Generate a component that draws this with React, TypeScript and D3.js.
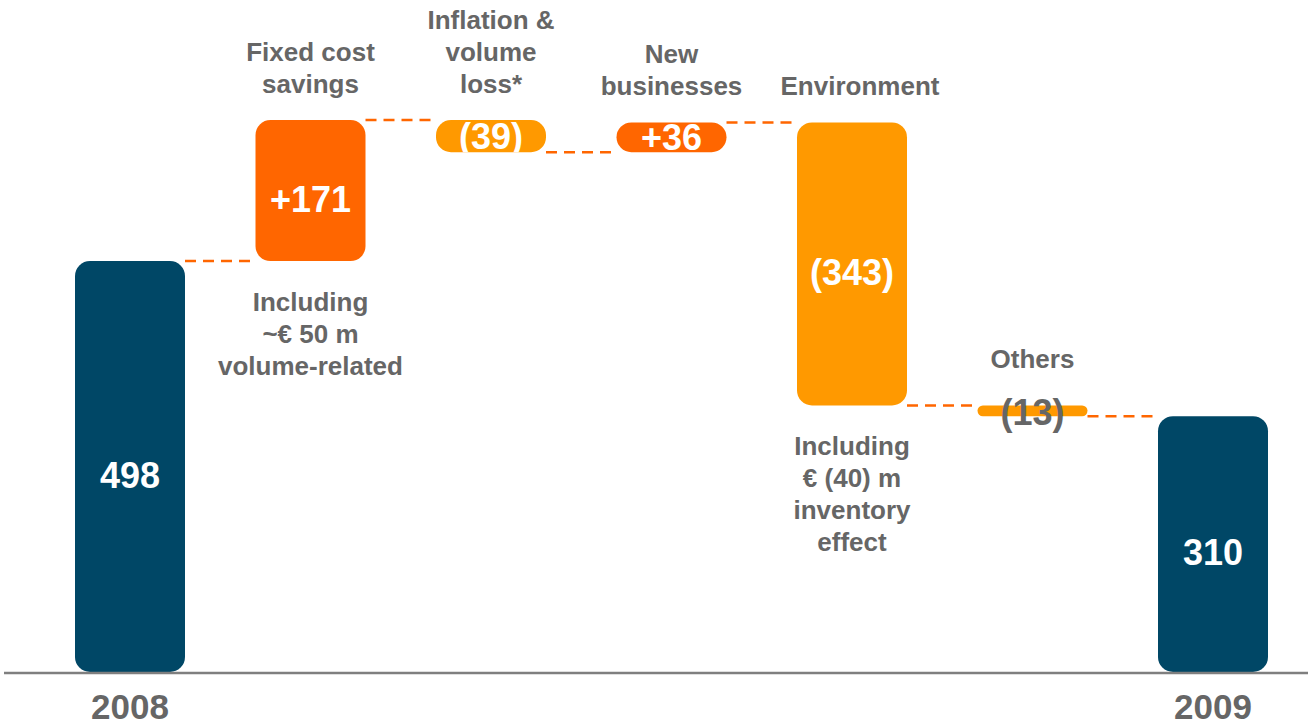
import React from 'react';
import * as d3 from 'd3';

// waterfall: 2008 -> 2009
const categories = ['2008', 'Fixed cost savings', 'Inflation & volume loss*', 'New businesses', 'Environment', 'Others', '2009'];
const values = [498, 171, -39, 36, -343, -13, 310];
const isTotal = [true, false, false, false, false, false, true];
const valueLabels = ['498', '+171', '(39)', '+36', '(343)', '(13)', '310'];
const headerLines = [[], ['Fixed cost', 'savings'], ['Inflation &', 'volume', 'loss*'], ['New', 'businesses'], ['Environment'], ['Others'], []];
const noteLines = [[], ['Including', '~€ 50 m', 'volume-related'], [], [], ['Including', '€ (40) m', 'inventory', 'effect'], [], []];

const W = 1308, H = 728;
const FONT = '"Liberation Sans", Arial, Helvetica, sans-serif';
const GREY = '#666666';
const DARK = '#004766';
const UP = '#FF6600';
const DOWN = '#FF9900';

const App = () => {
  const x = d3.scalePoint<string>().domain(categories).range([130, 1213]);
  const y = d3.scaleLinear().domain([0, 669]).range([672, 120]);
  const barW = 110;

  // running totals
  let run = 0;
  const bars = values.map((v, i) => {
    let y0, y1;
    if (isTotal[i]) {
      y0 = 0; y1 = v; run = v;
    } else {
      y0 = run; y1 = run + v; run = run + v;
    }
    const top = y(Math.max(y0, y1));
    const bottom = y(Math.min(y0, y1));
    return { i, cx: x(categories[i]) as number, top, bottom, end: y(run), v };
  });

  return (
    <svg width={W} height={H} style={{ position: 'absolute', left: 0, top: 0, background: '#fff' }} fontFamily={FONT}>
      <defs>
        {bars.map(b => (
          <clipPath id={'clip' + b.i} key={b.i}>
            <rect x={b.cx - barW / 2} y={b.top} width={barW} height={b.bottom - b.top} rx={Math.min(15, (b.bottom - b.top) / 2)} />
          </clipPath>
        ))}
      </defs>

      {/* connectors */}
      {bars.slice(0, -1).map(b => {
        const n = bars[b.i + 1];
        return (
          <line key={'c' + b.i} x1={b.cx + barW / 2} x2={n.cx - barW / 2} y1={b.end} y2={b.end}
            stroke={UP} strokeWidth={2.5} strokeDasharray="11,7" />
        );
      })}

      {/* bars */}
      {bars.map(b => {
        const h = b.bottom - b.top;
        const fill = isTotal[b.i] ? DARK : b.v > 0 ? UP : DOWN;
        return (
          <rect key={'b' + b.i} x={b.cx - barW / 2} y={b.top} width={barW} height={h}
            rx={Math.min(15, h / 2)} fill={fill} />
        );
      })}

      {/* axis */}
      <line x1={4} x2={W} y1={673} y2={673} stroke="#7f7f7f" strokeWidth={2.5} />

      {/* value labels */}
      {bars.map(b => {
        const h = b.bottom - b.top;
        const mid = (b.top + b.bottom) / 2;
        if (h < 20) {
          return (
            <text key={'v' + b.i} x={b.cx} y={mid + 14} textAnchor="middle" fontSize={36} fontWeight="bold" fill={GREY}>
              {valueLabels[b.i]}
            </text>
          );
        }
        const off = h < 50 ? 13 : 21;
        return (
          <text key={'v' + b.i} x={b.cx} y={mid + off} textAnchor="middle" fontSize={36} fontWeight="bold" fill="#fff"
            clipPath={h < 50 ? `url(#clip${b.i})` : undefined}>
            {valueLabels[b.i]}
          </text>
        );
      })}

      {/* category headers */}
      {bars.map(b => {
        const lines = headerLines[b.i];
        if (!lines.length) return null;
        const h = b.bottom - b.top;
        const last = h < 20 ? b.top - 37 : b.top - 27;
        const dx = lines.length === 1 && h >= 20 ? 8 : 0;
        return (
          <text key={'h' + b.i} textAnchor="middle" fontSize={26} fontWeight="bold" fill={GREY}>
            {lines.map((l, k) => (
              <tspan key={k} x={b.cx + dx} y={last - (lines.length - 1 - k) * 32}>{l}</tspan>
            ))}
          </text>
        );
      })}

      {/* notes below bars */}
      {bars.map(b => {
        const lines = noteLines[b.i];
        if (!lines.length) return null;
        return (
          <text key={'n' + b.i} textAnchor="middle" fontSize={26} fontWeight="bold" fill={GREY}>
            {lines.map((l, k) => (
              <tspan key={k} x={b.cx} y={b.bottom + 50 + k * 32}>{l}</tspan>
            ))}
          </text>
        );
      })}

      {/* year ticks */}
      {bars.filter(b => isTotal[b.i]).map(b => (
        <text key={'t' + b.i} x={b.cx} y={719} textAnchor="middle" fontSize={35} fontWeight="bold" fill={GREY}>
          {categories[b.i]}
        </text>
      ))}
    </svg>
  );
};

export default App;
